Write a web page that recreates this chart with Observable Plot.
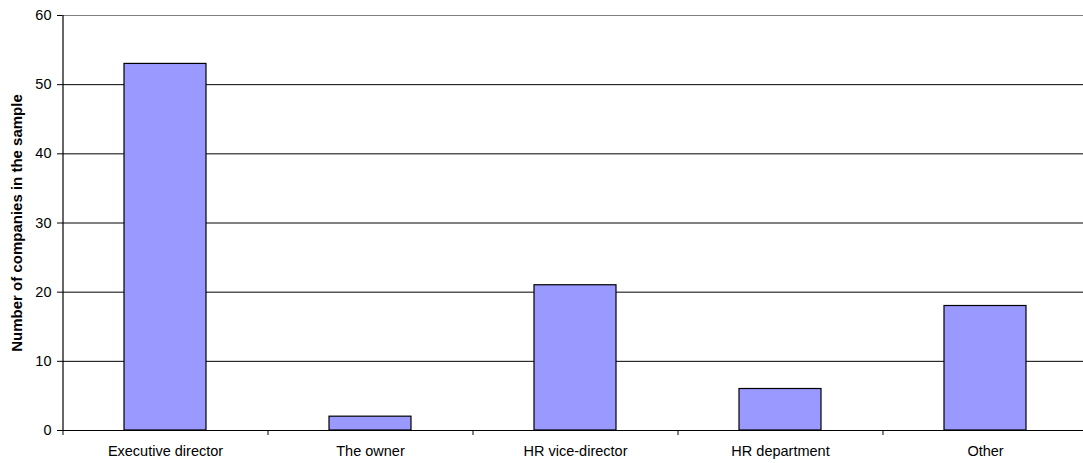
<!DOCTYPE html>
<html>
<head>
<meta charset="utf-8">
<script src="https://cdn.jsdelivr.net/npm/d3@7"></script>
<script src="https://cdn.jsdelivr.net/npm/@observablehq/plot@0.6"></script>
<style>
  html, body { margin: 0; padding: 0; background: #fff; overflow: hidden; }
  svg { display: block; }
</style>
</head>
<body>
<div id="chart"></div>
<script>
// Who is responsible for HR decisions in the surveyed companies
const categories = ["Executive director", "The owner", "HR vice-director", "HR department", "Other"];
const companies = [53, 2, 21, 6, 18];
const yTicks = [0, 10, 20, 30, 40, 50, 60];
const yLabel = "Number of companies in the sample";

const rows = categories.map((category, i) => ({category, value: companies[i]}));

const font = "Arial, 'Liberation Sans', sans-serif";

const base = {
  width: 1083,
  height: 463,
  marginLeft: 62,
  marginRight: -6,
  marginTop: 15,
  marginBottom: 33,
  style: {fontFamily: font, fontSize: "14.5px", background: "#fff", color: "#000"},
  x: {domain: categories, paddingInner: 0.6, paddingOuter: 0.3, align: 0.5},
  y: {domain: [0, 60]}
};

// first pass to learn the band step so boundary ticks can sit between categories
const probe = Plot.plot({...base, marks: [Plot.barY(rows, {x: "category", y: "value"})]});
const step = probe.scale("x").step;

const chart = Plot.plot({
  ...base,
  marks: [
    Plot.ruleY(yTicks.filter(d => d > 0 && d < 60), {stroke: "#000", strokeWidth: 1}),
    Plot.ruleY([60], {stroke: "#808080", strokeWidth: 1.2}),
    Plot.barY(rows, {x: "category", y: "value", fill: "#9999FF", stroke: "#000", strokeWidth: 1.2}),
    Plot.ruleY([0], {stroke: "#000", strokeWidth: 1.2}),
    Plot.ruleX([categories[0]], {dx: -step / 2, y1: 0, y2: 60, stroke: "#000", strokeWidth: 1.2}),
    Plot.axisY({ticks: yTicks, tickSize: 5, tickPadding: 6, label: null, fontSize: 14.5, stroke: "#000"}),
    Plot.axisX({tickSize: 5, tickFormat: () => "", label: null, dx: -step / 2, stroke: "#000"}),
    Plot.axisX({tickSize: 0, tickPadding: 15, label: null, fontSize: 14.5}),
    Plot.text([yLabel], {frameAnchor: "left", textAnchor: "middle", rotate: -90, dx: -45, fontWeight: "bold", fontSize: 15})
  ]
});

document.getElementById("chart").append(chart);
</script>
</body>
</html>
